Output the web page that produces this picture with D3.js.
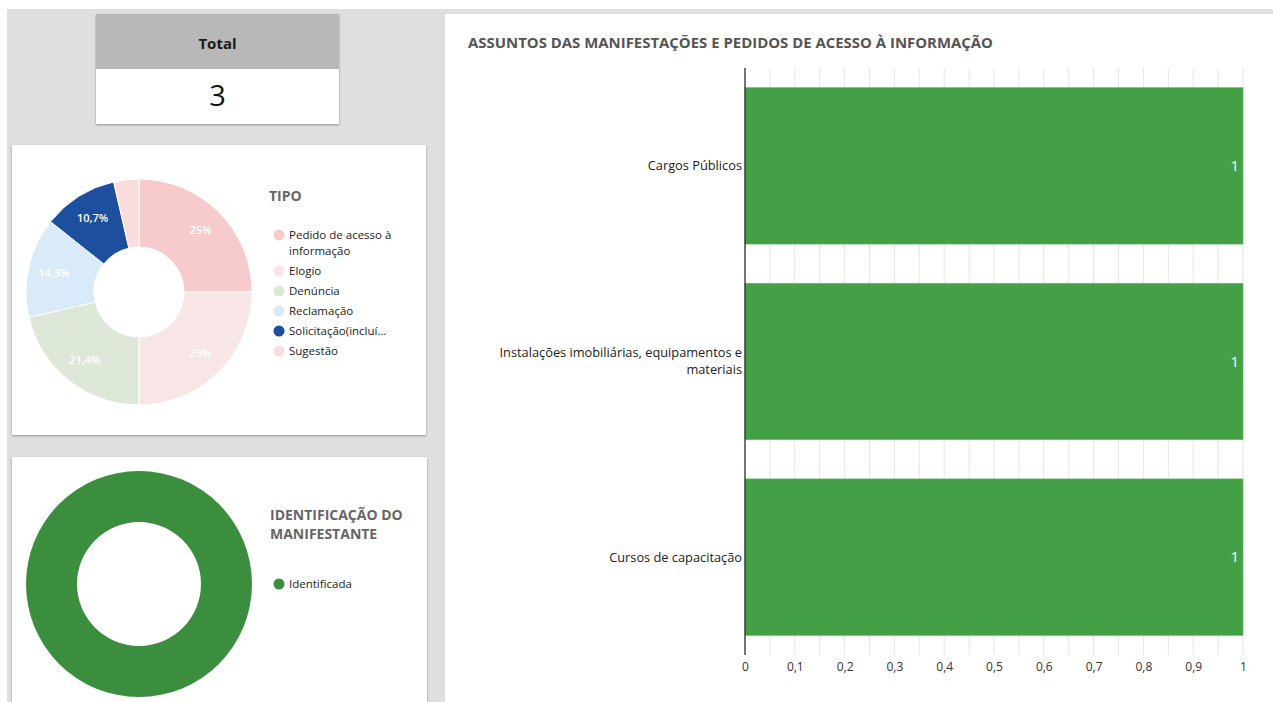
<!DOCTYPE html>
<html>
<head>
<meta charset="utf-8">
<script src="https://cdn.jsdelivr.net/npm/d3@7"></script>
<style>
  body { margin: 0; padding: 0; background: #fff; }
  svg { display: block; font-family: "Open Sans", "Noto Sans", sans-serif; }
</style>
</head>
<body>
<script>
const total = 3

const tipoLabels = ["Pedido de acesso à informação", "Elogio", "Denúncia", "Reclamação", "Solicitação(incluí...", "Sugestão"]
const tipoValues = [25, 25, 21.4, 14.3, 10.7, 3.6]
const tipoColors = ["#f7cbcc", "#f8e5e5", "#dde8d9", "#d9eaf8", "#1d4f9e", "#fbdcdd"]

const identLabels = ["Identificada"]
const identValues = [3]
const identColors = ["#3a8e3e"]

const assuntos = ["Cargos Públicos", "Instalações imobiliárias, equipamentos e materiais", "Cursos de capacitação"]
const assuntoValues = [1, 1, 1]
const xTicks = [0, 0.1, 0.2, 0.3, 0.4, 0.5, 0.6, 0.7, 0.8, 0.9, 1]

const width = 1273
const height = 702
const comma = v => String(v).replace(".", ",")

const svg = d3.select("body").append("svg")
  .attr("width", width)
  .attr("height", height)

const defs = svg.append("defs")
defs.append("filter").attr("id", "shadow")
  .attr("x", "-10%").attr("y", "-10%").attr("width", "120%").attr("height", "130%")
  .append("feDropShadow")
  .attr("dx", 0).attr("dy", 1).attr("stdDeviation", 1.2)
  .attr("flood-color", "#000").attr("flood-opacity", 0.35)

// background panels
svg.append("rect").attr("x", 7).attr("y", 9).attr("width", width - 7).attr("height", height - 9).attr("fill", "#dfdfdf")
svg.append("rect").attr("x", 445).attr("y", 14).attr("width", width - 445).attr("height", height - 14).attr("fill", "#fff")

// total card
const card = svg.append("g").attr("filter", "url(#shadow)")
card.append("rect").attr("x", 96).attr("y", 14).attr("width", 243).attr("height", 110).attr("fill", "#fff")
svg.append("rect").attr("x", 96).attr("y", 14).attr("width", 243).attr("height", 55).attr("fill", "#b8b8b8")
svg.append("text").attr("x", 217.5).attr("y", 49).attr("text-anchor", "middle")
  .attr("font-size", 15).attr("font-weight", 700).attr("fill", "#1a1a1a").text("Total")
svg.append("text").attr("x", 217.5).attr("y", 106).attr("text-anchor", "middle")
  .attr("font-size", 29).attr("fill", "#111").text(total)

// cards for the donuts
svg.append("rect").attr("x", 12).attr("y", 145).attr("width", 414).attr("height", 290)
  .attr("fill", "#fff").attr("filter", "url(#shadow)")
svg.append("rect").attr("x", 12).attr("y", 457).attr("width", 415).attr("height", 260)
  .attr("fill", "#fff").attr("filter", "url(#shadow)")

function legend(g, x, y, labels, colors, step) {
  let yy = y
  labels.forEach((lab, i) => {
    g.append("circle").attr("cx", x).attr("cy", yy - 4).attr("r", 5.5).attr("fill", colors[i])
    const lines = lab === "Pedido de acesso à informação" ? ["Pedido de acesso à", "informação"] : [lab]
    lines.forEach((l, j) => {
      g.append("text").attr("x", x + 10).attr("y", yy + j * 16)
        .attr("font-size", 11.5).attr("fill", "#222").text(l)
    })
    yy += step + (lines.length - 1) * 16
  })
}

// TIPO donut
const tipo = svg.append("g")
const pie = d3.pie().sort(null).value(d => d)
const arcT = d3.arc().innerRadius(45).outerRadius(113)
const labelArc = d3.arc().innerRadius(87).outerRadius(87)
const tg = tipo.append("g").attr("transform", "translate(139,292)")
tg.selectAll("path").data(pie(tipoValues)).join("path")
  .attr("d", arcT)
  .attr("fill", (d, i) => tipoColors[i])
  .attr("stroke", "#fff").attr("stroke-width", 1)
tg.selectAll("text").data(pie(tipoValues).filter(d => d.data >= 5)).join("text")
  .attr("transform", d => `translate(${labelArc.centroid(d)})`)
  .attr("text-anchor", "middle").attr("dy", "0.35em")
  .attr("font-size", 11).attr("font-weight", 600).attr("fill", "#fff")
  .text(d => comma(d.data) + "%")
tipo.append("text").attr("x", 269).attr("y", 201)
  .attr("font-size", 14).attr("font-weight", 700).attr("fill", "#666").text("TIPO")
legend(tipo, 279, 239, tipoLabels, tipoColors, 20)

// Identificação donut
const ident = svg.append("g")
const arcI = d3.arc().innerRadius(62).outerRadius(113)
ident.append("g").attr("transform", "translate(139,584)")
  .selectAll("path").data(pie(identValues)).join("path")
  .attr("d", arcI)
  .attr("fill", (d, i) => identColors[i])
ident.append("text").attr("x", 270).attr("y", 520)
  .attr("font-size", 14).attr("font-weight", 700).attr("fill", "#666").text("IDENTIFICAÇÃO DO")
ident.append("text").attr("x", 270).attr("y", 539)
  .attr("font-size", 14).attr("font-weight", 700).attr("fill", "#666").text("MANIFESTANTE")
legend(ident, 279, 588, identLabels, identColors, 20)

// bar chart
svg.append("text").attr("x", 468).attr("y", 48)
  .attr("font-size", 14.5).attr("font-weight", 700).attr("fill", "#555")
  .attr("textLength", 525).attr("lengthAdjust", "spacingAndGlyphs")
  .text("ASSUNTOS DAS MANIFESTAÇÕES E PEDIDOS DE ACESSO À INFORMAÇÃO")

const x = d3.scaleLinear().domain([0, 1]).range([745, 1243])
const y = d3.scaleBand().domain(assuntos).range([68, 655]).paddingInner(0.2).paddingOuter(0.1)

const bars = svg.append("g")
bars.selectAll("line.grid").data(x.ticks(20)).join("line")
  .attr("class", "grid")
  .attr("x1", d => x(d)).attr("x2", d => x(d))
  .attr("y1", 68).attr("y2", 655)
  .attr("stroke", "#e6e6e6").attr("stroke-width", 1)

bars.selectAll("rect").data(assuntos).join("rect")
  .attr("x", x(0)).attr("y", d => y(d))
  .attr("width", (d, i) => x(assuntoValues[i]) - x(0))
  .attr("height", y.bandwidth())
  .attr("fill", "#43a047")
  .attr("stroke", "#6cbf6f").attr("stroke-width", 0.6)

bars.selectAll("text.val").data(assuntos).join("text")
  .attr("class", "val")
  .attr("x", (d, i) => x(assuntoValues[i]) - 4)
  .attr("y", d => y(d) + y.bandwidth() / 2)
  .attr("dy", "0.35em").attr("text-anchor", "end")
  .attr("font-size", 15).attr("fill", "#fff")
  .text((d, i) => assuntoValues[i])

bars.append("line")
  .attr("x1", x(0)).attr("x2", x(0)).attr("y1", 68).attr("y2", 655)
  .attr("stroke", "#222").attr("stroke-width", 1.2)

const xAxis = svg.append("g")
  .attr("transform", "translate(0,655)")
  .call(d3.axisBottom(x).tickValues(xTicks).tickSize(0).tickPadding(7).tickFormat(d => comma(d)))
xAxis.select(".domain").remove()
xAxis.selectAll("text").attr("font-family", "\"Open Sans\", sans-serif").attr("font-size", 12).attr("fill", "#333")

// category labels, wrapped
function wrapLines(text, maxW) {
  const words = text.split(" ")
  const tmp = svg.append("text").attr("font-size", 12.8)
  const lines = []
  let cur = ""
  words.forEach(w => {
    const test = cur ? cur + " " + w : w
    tmp.text(test)
    if (tmp.node().getComputedTextLength() > maxW && cur) {
      lines.push(cur)
      cur = w
    } else {
      cur = test
    }
  })
  lines.push(cur)
  tmp.remove()
  return lines
}

assuntos.forEach(a => {
  const lines = wrapLines(a, 255)
  const cy = y(a) + y.bandwidth() / 2
  lines.forEach((l, j) => {
    svg.append("text")
      .attr("x", 742).attr("y", cy + (j - (lines.length - 1) / 2) * 17)
      .attr("dy", "0.35em").attr("text-anchor", "end")
      .attr("font-size", 12.8).attr("fill", "#222").text(l)
  })
})
</script>
</body>
</html>
